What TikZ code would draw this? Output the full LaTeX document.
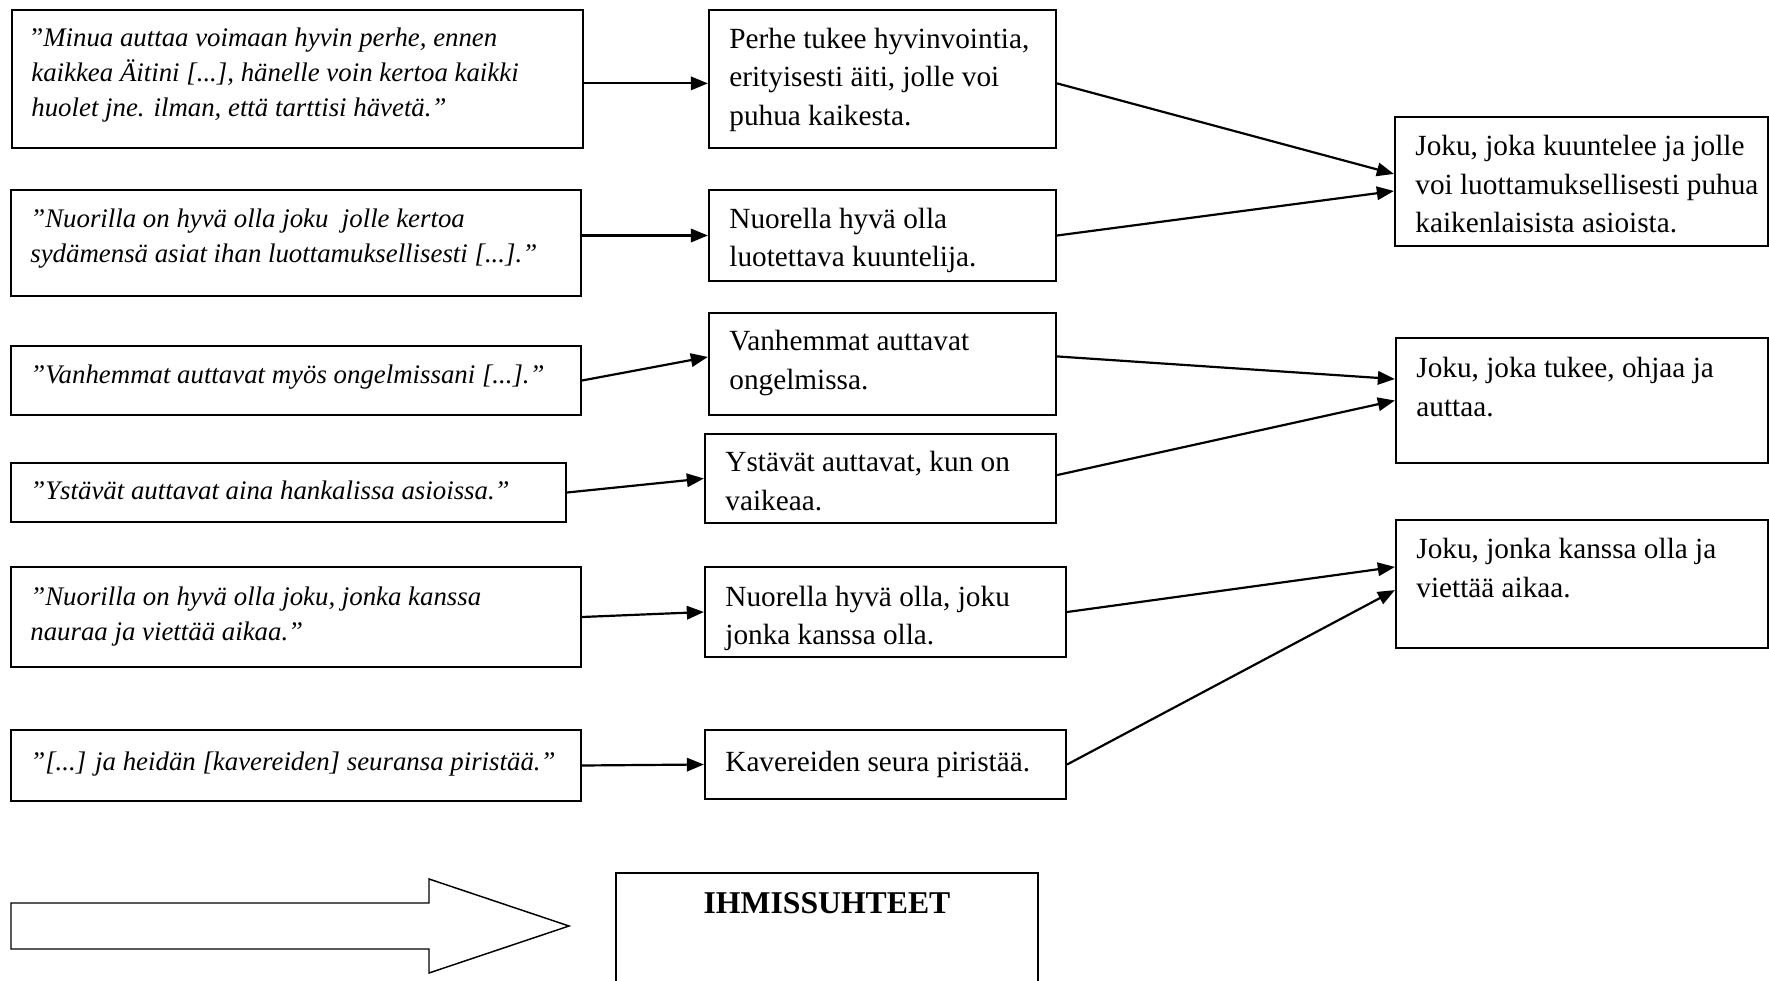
\documentclass[tikz,border=0pt]{standalone}
\usepackage{fontspec}
\setmainfont{Liberation Serif}
\usetikzlibrary{arrows.meta,fit}
\begin{document}
\begin{tikzpicture}[x=0.41pt,y=-0.41pt,
                box/.style={draw,line width=0.9pt,inner sep=0pt},
                quote/.style={anchor=north west,inner sep=0pt,align=left,font=\fontsize{11}{14.3}\selectfont\itshape,execute at begin node=\rule{0pt}{10pt}},
                idea/.style={anchor=north west,inner sep=0pt,align=left,font=\fontsize{12}{15.8}\selectfont,execute at begin node=\rule{0pt}{10pt}},
                link/.style={-{Triangle[length=7pt,width=5.5pt]},line width=0.9pt}]
                \useasboundingbox (0,0) rectangle (1769,981);
                \clip (0,0) rectangle (1769,981);
                \node[box,fit={(12,10)(583,148)}] (q1) {};
                \node[box,fit={(11,190)(581,296)}] (q2) {};
                \node[box,fit={(11,346)(581,415)}] (q3) {};
                \node[box,fit={(11,463)(566,522)}] (q4) {};
                \node[box,fit={(11,567)(581,667)}] (q5) {};
                \node[box,fit={(11,730)(581,801)}] (q6) {};
                \node[quote] (q1t) at ([xshift=8.2pt,yshift=-7.6pt]q1.north west) {{\upshape ”}Minua auttaa voimaan hyvin perhe, ennen\\kaikkea Äitini [...], hänelle voin kertoa kaikki\\huolet jne. ilman, että tarttisi hävetä.”};
                \node[quote] (q2t) at ([xshift=8.2pt,yshift=-8pt]q2.north west) {”Nuorilla on hyvä olla joku\ \ jolle kertoa\\sydämensä asiat ihan luottamuksellisesti [...].”};
                \node[quote] (q3t) at ([xshift=8.2pt,yshift=-5.8pt]q3.north west) {”Vanhemmat auttavat myös ongelmissani [...].”};
                \node[quote] (q4t) at ([xshift=8.2pt,yshift=-5.3pt]q4.north west) {”Ystävät auttavat aina hankalissa asioissa.”};
                \node[quote] (q5t) at ([xshift=8.2pt,yshift=-8.4pt]q5.north west) {”Nuorilla on hyvä olla joku, jonka kanssa\\nauraa ja viettää aikaa.”};
                \node[quote] (q6t) at ([xshift=8.2pt,yshift=-6.9pt]q6.north west) {”[...] ja heidän [kavereiden] seuransa piristää.”};
                \node[box,fit={(709,10)(1056,148)}] (m1) {};
                \node[box,fit={(709,190)(1056,281)}] (m2) {};
                \node[box,fit={(709,313)(1056,415)}] (m3) {};
                \node[box,fit={(705,434)(1056,523)}] (m4) {};
                \node[box,fit={(705,567)(1066,657)}] (m5) {};
                \node[box,fit={(705,730)(1066,799)}] (m6) {};
                \node[idea] (m1t) at ([xshift=8.6pt,yshift=-7.6pt]m1.north west) {Perhe tukee hyvinvointia,\\erityisesti äiti, jolle voi\\puhua kaikesta.};
                \node[idea] (m2t) at ([xshift=8.6pt,yshift=-7.6pt]m2.north west) {Nuorella hyvä olla\\luotettava kuuntelija.};
                \node[idea] (m3t) at ([xshift=8.6pt,yshift=-7.4pt]m3.north west) {Vanhemmat auttavat\\ongelmissa.};
                \node[idea] (m4t) at ([xshift=8.6pt,yshift=-7.4pt]m4.north west) {Ystävät auttavat, kun on\\vaikeaa.};
                \node[idea] (m5t) at ([xshift=8.6pt,yshift=-8pt]m5.north west) {Nuorella hyvä olla, joku\\jonka kanssa olla.};
                \node[idea] (m6t) at ([xshift=8.6pt,yshift=-7.2pt]m6.north west) {Kavereiden seura piristää.};
                \node[box,fit={(1395,117)(1768,246)}] (r1) {};
                \node[box,fit={(1396,338)(1768,463)}] (r2) {};
                \node[box,fit={(1396,520)(1768,648)}] (r3) {};
                \node[idea] (r1t) at ([xshift=8.6pt,yshift=-7.8pt]r1.north west) {Joku, joka kuuntelee ja jolle\\voi luottamuksellisesti puhua\\kaikenlaisista asioista.};
                \node[idea] (r2t) at ([xshift=8.6pt,yshift=-8.2pt]r2.north west) {Joku, joka tukee, ohjaa ja\\auttaa.};
                \node[idea] (r3t) at ([xshift=8.6pt,yshift=-7.8pt]r3.north west) {Joku, jonka kanssa olla ja\\viettää aikaa.};
                \draw[link] ([yshift=-1.8pt]q1.east) -- ([yshift=-1.8pt]m1.west);
                \draw[link] (q2.east |- m2.west) -- (m2.west);
                \draw[link] (q3.east) -- ([yshift=2.9pt]m3.west);
                \draw[link] (q4.east) -- (m4.west);
                \draw[link] (q5.east) -- (m5.west);
                \draw[link] (q6.east) -- (m6.west);
                \draw[link] ([yshift=-1.8pt]m1.east) -- ([yshift=3.1pt]r1.west);
                \draw[link] (m2.east) -- ([yshift=-3.9pt]r1.west);
                \draw[link] ([yshift=3.1pt]m3.east) -- ([yshift=8.8pt]r2.west);
                \draw[link] ([yshift=1.4pt]m4.east) -- (r2.west);
                \draw[link] (m5.east) -- ([yshift=7pt]r3.west);
                \draw[link] (m6.east) -- ([yshift=-2.5pt]r3.west);
                \draw[line width=0.6pt] (11,903) -- (429,903) -- (429,879) -- (569,926) -- (429,973) -- (429,949) -- (11,949) -- cycle;
                \node[box,fit={(616,873)(1038,1000)}] (ih) {};
                \node[font=\fontsize{13}{15}\selectfont\bfseries,anchor=base] (iht) at (ih.north |- 0,913) {IHMISSUHTEET};
            \end{tikzpicture}
\end{document}
